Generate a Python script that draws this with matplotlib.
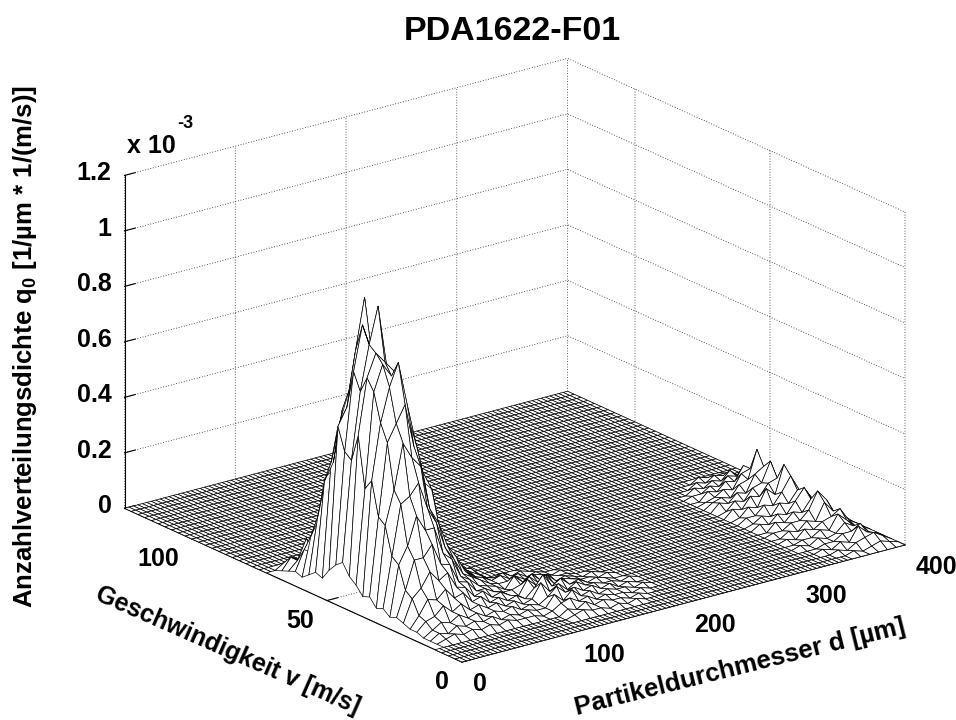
import numpy as np
import matplotlib
matplotlib.use("Agg")
import matplotlib.pyplot as plt
from mpl_toolkits.mplot3d import proj3d
from mpl_toolkits.mplot3d.art3d import Poly3DCollection

plt.rcParams['font.family'] = ['Liberation Sans', 'DejaVu Sans']
plt.rcParams['font.weight'] = 'bold'
plt.rcParams['mathtext.default'] = 'regular'

TITLE = "PDA1622-F01"
XLABEL = "Partikeldurchmesser d [µm]"
YLABEL = "Geschwindigkeit v [m/s]"
ZLABEL = "Anzahlverteilungsdichte q$_0$ [1/µm * 1/(m/s)]"

d_ticks = [0, 100, 200, 300, 400]
v_ticks = [0, 50, 100]
z_ticks = [0, 0.2, 0.4, 0.6, 0.8, 1.0, 1.2]
z_ticklabels = ['0', '0.2', '0.4', '0.6', '0.8', '1', '1.2']

d_grid = [8 * n for n in range(51)]            # µm
v_grid = [2.5 * n for n in range(51)]          # m/s

# density in 1e-3 units; rows are v indices, columns d indices
main_first_row, main_first_col = 5, 1
main_peak = [
 [.00,.01,.02,.01,.02,.01,.02,.01,.02,.01,.01,.01,.00,.01],
 [.00,.02,.01,.03,.02,.03,.02,.03,.01,.02,.01,.02,.01,.01],
 [.00,.02,.04,.03,.05,.03,.04,.02,.03,.02,.03,.01,.02,.01],
 [.01,.04,.05,.08,.05,.07,.04,.05,.03,.04,.02,.03,.01,.02],
 [.01,.05,.10,.09,.12,.08,.09,.05,.06,.03,.04,.02,.03,.01],
 [.02,.10,.13,.18,.14,.16,.10,.09,.05,.06,.03,.04,.02,.01],
 [.03,.12,.22,.22,.26,.18,.17,.10,.09,.05,.05,.03,.02,.02],
 [.02,.20,.26,.36,.30,.30,.20,.17,.10,.08,.05,.04,.03,.01],
 [.04,.22,.40,.42,.46,.36,.30,.20,.15,.09,.07,.05,.03,.02],
 [.03,.32,.44,.60,.54,.50,.34,.28,.19,.14,.08,.05,.04,.02],
 [.06,.34,.60,.66,.72,.56,.46,.39,.22,.13,.09,.06,.03,.02],
 [.05,.46,.66,.78,.86,.70,.55,.40,.24,.17,.11,.06,.04,.02],
 [.08,.42,.76,.85,.80,.75,.62,.40,.30,.19,.11,.08,.04,.03],
 [.10,.60,.80,.88,.84,.80,.60,.48,.31,.18,.13,.07,.05,.02],
 [.14,.50,.74,.90,1.03,.80,.66,.46,.30,.21,.12,.08,.04,.03],
 [.12,.52,.80,.96,.86,.82,.62,.42,.33,.18,.13,.07,.05,.03],
 [.09,.60,.66,.86,1.04,.75,.54,.42,.26,.18,.10,.07,.04,.02],
 [.05,.46,.60,.70,.78,.58,.50,.32,.24,.13,.10,.05,.03,.02],
 [.06,.38,.44,.62,.56,.52,.36,.28,.16,.12,.06,.04,.02,.01],
 [.04,.24,.38,.40,.50,.36,.30,.18,.15,.07,.05,.02,.02,.01],
 [.02,.16,.22,.30,.36,.24,.24,.12,.09,.05,.03,.01,.01,.00],
 [.03,.10,.08,.20,.15,.22,.12,.11,.05,.03,.02,.01,.00,.00],
 [.02,.05,.12,.08,.14,.09,.10,.05,.04,.02,.01,.00,.00,.00],
 [.01,.05,.03,.08,.05,.09,.04,.03,.02,.01,.00,.00,.00,.00],
 [.00,.02,.03,.01,.02,.03,.01,.02,.01,.00,.00,.00,.00,.00],
]

tail_first_row, tail_first_col = 3, 15
tail = [
 [.01,.02,.01,.01,.00,.01,.00,.01,.00,.00,.00,.00],
 [.02,.01,.03,.01,.02,.01,.01,.00,.01,.00,.00,.00],
 [.03,.04,.02,.03,.01,.02,.01,.01,.00,.01,.00,.00],
 [.05,.02,.05,.02,.03,.01,.02,.01,.01,.00,.01,.00],
 [.03,.06,.03,.04,.02,.03,.01,.02,.00,.01,.00,.00],
 [.07,.03,.05,.02,.04,.02,.02,.01,.01,.00,.01,.00],
 [.04,.08,.03,.05,.02,.03,.01,.02,.01,.00,.00,.00],
 [.06,.03,.06,.02,.03,.02,.01,.01,.00,.01,.00,.00],
 [.03,.05,.02,.04,.01,.02,.01,.00,.01,.00,.00,.00],
 [.05,.02,.04,.01,.02,.01,.01,.00,.00,.00,.00,.00],
 [.02,.03,.01,.02,.01,.00,.01,.00,.00,.00,.00,.00],
 [.03,.01,.02,.00,.01,.00,.00,.00,.00,.00,.00,.00],
 [.01,.02,.00,.01,.00,.00,.00,.00,.00,.00,.00,.00],
]

right_first_row, right_first_col = 1, 42
right_ridge = [
 [.00,.00,.00,.01,.00,.01,.02,.01,.00],
 [.00,.00,.01,.00,.02,.03,.04,.02,.00],
 [.00,.01,.00,.02,.01,.06,.03,.02,.00],
 [.00,.00,.01,.01,.03,.03,.05,.01,.00],
 [.01,.00,.02,.01,.02,.05,.03,.02,.00],
 [.00,.01,.01,.03,.02,.07,.04,.01,.00],
 [.01,.00,.03,.02,.04,.05,.07,.02,.00],
 [.00,.02,.01,.04,.03,.09,.05,.03,.00],
 [.01,.01,.03,.03,.06,.12,.08,.02,.00],
 [.00,.03,.02,.05,.04,.08,.06,.03,.00],
 [.02,.01,.04,.03,.07,.11,.05,.02,.00],
 [.01,.03,.02,.06,.05,.09,.08,.03,.00],
 [.02,.02,.05,.04,.08,.13,.07,.02,.00],
 [.01,.04,.03,.09,.06,.16,.09,.03,.00],
 [.03,.02,.06,.05,.09,.10,.07,.02,.00],
 [.01,.04,.03,.07,.08,.15,.06,.03,.00],
 [.03,.02,.05,.04,.10,.12,.08,.02,.00],
 [.02,.03,.02,.06,.07,.17,.05,.03,.00],
 [.01,.02,.04,.03,.08,.09,.06,.01,.00],
 [.00,.03,.02,.05,.04,.09,.03,.02,.00],
 [.01,.01,.03,.02,.05,.04,.05,.01,.00],
 [.00,.02,.01,.03,.02,.05,.02,.01,.00],
 [.00,.00,.02,.01,.03,.02,.02,.00,.00],
 [.00,.00,.00,.02,.01,.01,.01,.00,.00],
]

# v indices at which the first diameter column has no data
missing_first_col_rows = list(range(5, 29))

X_LIM = (0, 400)
Y_LIM = (0, 125)
Z_LIM = (0, 1.2)

Z = np.zeros((len(v_grid), len(d_grid)))
for table, r0, c0 in ((main_peak, main_first_row, main_first_col),
                      (tail, tail_first_row, tail_first_col),
                      (right_ridge, right_first_row, right_first_col)):
    t = np.array(table)
    Z[r0:r0 + t.shape[0], c0:c0 + t.shape[1]] = t
Z[missing_first_col_rows, 0] = np.nan

W, H = 956, 720
fig = plt.figure(figsize=(W / 100, H / 100), dpi=100, facecolor='white')
ax = fig.add_axes([0, 0, 1, 1], projection='3d')
ax.set_proj_type('ortho')
ax.view_init(elev=20.3, azim=-127.3)
ax.set_box_aspect((557, 557, 355))
ax.set_xlim(*X_LIM); ax.set_ylim(*Y_LIM); ax.set_zlim(*Z_LIM)
ax.set_autoscale_on(False)
ax.patch.set_alpha(0)

# mesh with white faces; flat cells carry one extra diameter line, as the floor is finer
polys = []
for r in range(Z.shape[0] - 1):
    for c in range(Z.shape[1] - 1):
        idx = [(r, c), (r, c + 1), (r + 1, c + 1), (r + 1, c)]
        vals = [Z[p] for p in idx]
        if any(np.isnan(vals)):
            continue
        v0, v1 = v_grid[r], v_grid[r + 1]
        d0, d1 = d_grid[c], d_grid[c + 1]
        if not any(vals):
            dm = (d0 + d1) / 2
            polys.append([(d0, v0, 0), (dm, v0, 0), (dm, v1, 0), (d0, v1, 0)])
            polys.append([(dm, v0, 0), (d1, v0, 0), (d1, v1, 0), (dm, v1, 0)])
        else:
            polys.append([(d_grid[p[1]], v_grid[p[0]], Z[p]) for p in idx])
mesh = Poly3DCollection(polys, facecolors='white', edgecolors='#000000',
                        linewidths=0.5, zsort='average')
ax.add_collection3d(mesh)

ax.set_xticks(d_ticks)
ax.set_yticks(v_ticks)
ax.set_zticks(z_ticks)
ax.set_xticklabels([])
ax.set_yticklabels([])
ax.set_zticklabels([])

for axis in (ax.xaxis, ax.yaxis, ax.zaxis):
    axis.set_pane_color((1, 1, 1, 1))
    axis.pane.set_edgecolor((1, 1, 1, 0))
    axis.line.set_color('black')
    axis.line.set_linewidth(0.8)
    axis._axinfo['grid'].update(color='#222222', linewidth=0.6, linestyle=(0, (1, 2.2)))
    axis._axinfo['tick'].update(inward_factor=0.0, outward_factor=0.3)
    axis._axinfo['tick']['linewidth'] = {True: 0.8, False: 0.8}
    axis._axinfo['axisline']['color'] = 'black'
    axis._axinfo['axisline']['linewidth'] = 0.8


def corner_px(x, y, z):
    px, py, _ = proj3d.proj_transform(x, y, z, ax.get_proj())
    return ax.transData.transform((px, py))


# fit the box to the frame: target pixels of front and right floor corners
target_front = np.array([462, H - 662.0])
target_right = np.array([905, H - 545.0])
fig.canvas.draw()
f = corner_px(X_LIM[0], Y_LIM[0], Z_LIM[0])
g = corner_px(X_LIM[1], Y_LIM[0], Z_LIM[0])
scale = np.linalg.norm(target_right - target_front) / np.linalg.norm(g - f)
pos = ax.get_position()
side = pos.width * W * scale
ax.set_position([0, 0, side / W, side / H])
fig.canvas.draw()
f = corner_px(X_LIM[0], Y_LIM[0], Z_LIM[0])
shift = target_front - f
ax.set_position([shift[0] / W, shift[1] / H, side / W, side / H])
fig.canvas.draw()


def tick_text(point, dx, dy, label, ha):
    px, py = corner_px(*point)
    fig.text((px + dx) / W, (py - dy) / H, label, ha=ha, va='center',
             fontsize=18, fontweight='bold')


for d in d_ticks:
    tick_text((d, Y_LIM[0], Z_LIM[0]), 11, 22, str(d), 'left')
for v in v_ticks:
    tick_text((X_LIM[0], v, Z_LIM[0]), -13, 20, str(v), 'right')
for z, lab in zip(z_ticks, z_ticklabels):
    tick_text((X_LIM[0], Y_LIM[1], z), -13, -2, lab, 'right')

fig.text(512 / W, 1 - 32 / H, TITLE, ha='center', va='center', fontsize=24.5, fontweight='bold')
fig.text(127 / W, 1 - 153 / H, 'x 10', ha='left', va='baseline', fontsize=18, fontweight='bold')
fig.text(177 / W, 1 - 128 / H, '-3', ha='left', va='baseline', fontsize=13, fontweight='bold')
fig.text(25 / W, 1 - 347 / H, ZLABEL, rotation=90, ha='center', va='center', fontsize=18.5, fontweight='bold')
fig.text(228 / W, 1 - 650 / H, YLABEL, rotation=-23.7, rotation_mode='anchor',
         ha='center', va='center', fontsize=18, fontweight='bold')
fig.text(740 / W, 1 - 667 / H, XLABEL, rotation=14, rotation_mode='anchor',
         ha='center', va='center', fontsize=18.5, fontweight='bold')

fig.savefig('out.png', dpi=100, facecolor='white')
